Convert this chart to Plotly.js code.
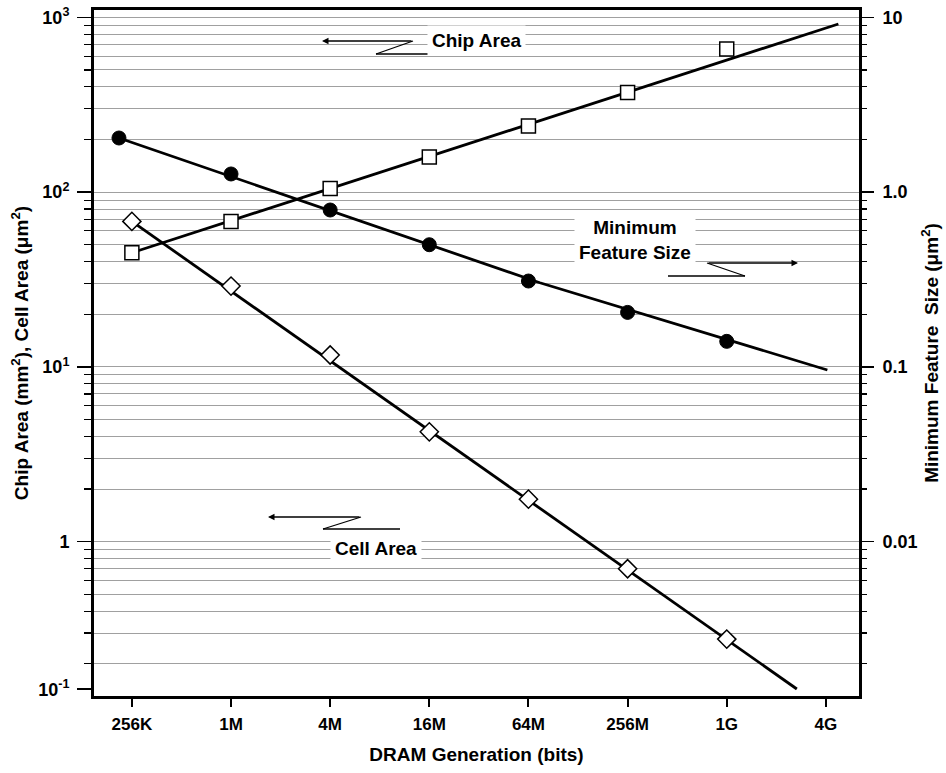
<!DOCTYPE html>
<html>
<head>
<meta charset="utf-8">
<script src="https://cdn.plot.ly/plotly-3.0.1.min.js"></script>
<style>html,body{margin:0;padding:0;background:#fff;}#chart{width:946px;height:773px;}</style>
</head>
<body>
<div id="chart"></div>
<script>
// ---- data ----
const generations = ['256K','1M','4M','16M','64M','256M','1G','4G'];
const genIndex = [0,1,2,3,4,5,6,7];

const chipX = [0,1,2,3,4,5,6];
const chipArea = [45, 68, 105, 159, 239, 372, 659];          // mm^2 (left axis)

const cellX = [0,1,2,3,4,5,6];
const cellArea = [68, 29, 11.7, 4.25, 1.75, 0.70, 0.277];     // um^2 (left axis)

const featureX = [-0.13,1,2,3,4,5,6];
const featureSize = [2.04, 1.27, 0.79, 0.50, 0.31, 0.205, 0.14]; // um (right axis)

// trend lines drawn in the reference
const chipFitX = [0, 7.126];             const chipFit = [45, 916];
const cellFitX = [0, 6.707];             const cellFit = [68, 0.1436];
const featureFitX = [-0.13, 4.115, 7.015]; const featureFit = [2.04, 0.303, 0.096];

const leftTickVals = [0.1432, 1, 10, 100, 1000];
const leftTickText = ['10<sup>-1</sup>','1','10<sup>1</sup>','10<sup>2</sup>','10<sup>3</sup>'];
const rightTickVals = [0.01, 0.1, 1, 10];
const rightTickText = ['0.01','0.1','1.0','10'];

// ---- helpers ----
function minorVals(lo, hi){ const v=[]; for(let e=lo;e<=hi;e++){ for(let m=1;m<=9;m++){ v.push(m*Math.pow(10,e)); } } return v; }
const FONT = 'Liberation Sans, Arial, Helvetica, sans-serif';
const L = {l:94, r:87, t:10, b:77, W:946, H:773};
const PW = L.W - L.l - L.r, PH = L.H - L.t - L.b;
function px(x){ return (x - L.l)/PW; }
function py(y){ return (L.H - L.b - y)/PH; }
function seg(x0,y0,x1,y1){ return {type:'line', xref:'paper', yref:'paper', x0:px(x0), y0:py(y0), x1:px(x1), y1:py(y1), line:{color:'black', width:1.3}}; }
function arrow(tipX, tipY, tailX, tailY){ return {xref:'paper', yref:'paper', x:px(tipX), y:py(tipY), ax:tailX-tipX, ay:tailY-tipY, text:'', showarrow:true, arrowhead:2, arrowsize:1, arrowwidth:1.3, arrowcolor:'black', font:{size:19}}; }
function label(text, cx, cy){ return {xref:'paper', yref:'paper', x:px(cx), y:py(cy), xanchor:'center', yanchor:'middle', text:text, showarrow:false, bgcolor:'white', borderpad:4, font:{family:FONT, size:19, color:'black', weight:'bold'}}; }

const lineStyle = {color:'black', width:2.8};
const traces = [
  {x:chipFitX, y:chipFit, mode:'lines', line:lineStyle, yaxis:'y', hoverinfo:'skip'},
  {x:cellFitX, y:cellFit, mode:'lines', line:lineStyle, yaxis:'y', hoverinfo:'skip'},
  {x:featureFitX, y:featureFit, mode:'lines', line:lineStyle, yaxis:'y2', hoverinfo:'skip'},
  {x:chipX, y:chipArea, mode:'markers', yaxis:'y', marker:{symbol:'square', size:14, color:'white', line:{color:'black', width:1.5}}},
  {x:cellX, y:cellArea, mode:'markers', yaxis:'y', marker:{symbol:'diamond', size:14, color:'white', line:{color:'black', width:1.5}}},
  {x:featureX, y:featureSize, mode:'markers', yaxis:'y2', marker:{symbol:'circle', size:14, color:'black', line:{color:'black', width:1}}}
];

const titleFont = {family:FONT, size:19, color:'black', weight:'bold'};
const layout = {
  width:946, height:773,
  margin:{l:L.l, r:L.r, t:L.t, b:L.b},
  paper_bgcolor:'white', plot_bgcolor:'white',
  showlegend:false,
  font:{family:FONT, size:17, color:'black', weight:'bold'},
  xaxis:{
    range:[-0.382, 7.334], tickmode:'array', tickvals:genIndex, ticktext:generations,
    ticks:'outside', ticklen:8, tickwidth:2, tickcolor:'black',
    showline:true, linewidth:3, linecolor:'black', mirror:true,
    showgrid:false, zeroline:false, ticklabelstandoff:3,
    tickfont:{family:FONT, size:17, color:'black', weight:'bold'},
    title:{text:'DRAM Generation (bits)', font:titleFont, standoff:15}
  },
  yaxis:{
    type:'log', range:[-0.883, 3.042],
    tickmode:'array', tickvals:leftTickVals, ticktext:leftTickText,
    ticks:'outside', ticklen:14, tickwidth:1.5, tickcolor:'black',
    showgrid:false, showline:true, linewidth:3, linecolor:'black', mirror:true,
    zeroline:false, ticklabelstandoff:4,
    tickfont:{family:FONT, size:18, color:'black', weight:'bold'},
    minor:{tickmode:'array', tickvals:minorVals(-1,3), ticks:'outside', ticklen:7, tickwidth:1.2, tickcolor:'black', showgrid:true, gridcolor:'#a0a0a0', gridwidth:1},
    title:{text:'Chip Area (mm<sup>2</sup>), Cell Area (\u03bcm<sup>2</sup>)', font:titleFont, standoff:5}
  },
  yaxis2:{
    type:'log', range:[-2.883, 1.042], overlaying:'y', side:'right',
    tickmode:'array', tickvals:rightTickVals, ticktext:rightTickText,
    ticks:'outside', ticklen:14, tickwidth:1.5, tickcolor:'black',
    showgrid:false, showline:false, zeroline:false, ticklabelstandoff:5,
    tickfont:{family:FONT, size:18, color:'black', weight:'bold'},
    minor:{tickmode:'array', tickvals:minorVals(-3,1), ticks:'outside', ticklen:7, tickwidth:1.2, tickcolor:'black', showgrid:false},
    title:{text:'Minimum Feature&nbsp; Size (\u03bcm<sup>2</sup>)', font:titleFont, standoff:8}
  },
  shapes:[
    seg(413,41,376,54), seg(376,54,453,54),
    seg(668,276,745,276), seg(745,276,707,263),
    seg(361,517,323,529), seg(323,529,400,529)
  ],
  annotations:[
    arrow(322,41,413,41),
    arrow(798,263,707,263),
    arrow(268,517,361,517),
    label('Chip Area', 476, 41),
    label('Minimum<br>Feature Size', 635, 240),
    label('Cell Area', 376, 548)
  ]
};

Plotly.newPlot('chart', traces, layout, {staticPlot:true, displayModeBar:false});
</script>
</body>
</html>
